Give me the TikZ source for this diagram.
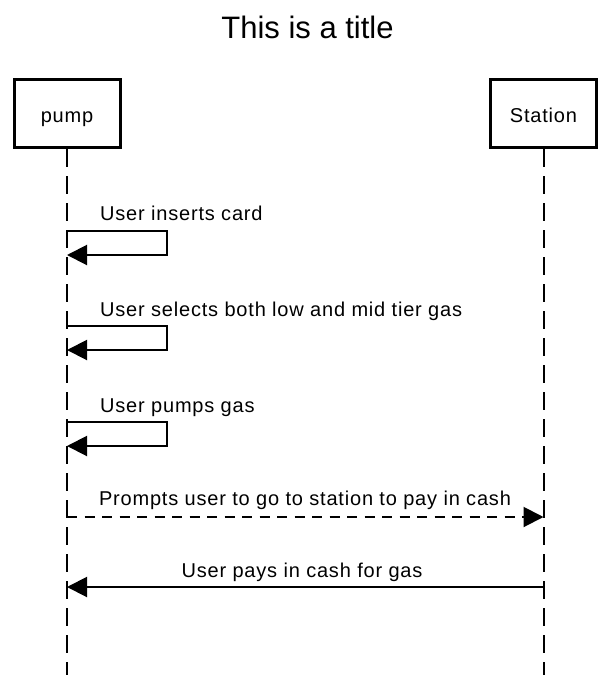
\documentclass[tikz,border=0pt]{standalone}
\usepackage{fontspec}
\setmainfont{Liberation Sans}
\newfontfamily\lblfont[LetterSpace=4]{Liberation Sans}
\usetikzlibrary{arrows.meta}
\begin{document}
\begin{tikzpicture}[x=1pt,y=-1pt,
  actor/.style={draw,line width=3pt,minimum width=106pt,minimum height=68pt,inner sep=0pt,text height=19pt,text depth=2pt,font=\lblfont\fontsize{20}{24}\selectfont},
  lifeline/.style={line width=2pt,dash pattern=on 18pt off 9pt},
  msg/.style={line width=2pt,-{Triangle[length=20pt,width=20pt]}},
  dmsg/.style={msg,dash pattern=on 10pt off 7.5pt},
  lbl/.style={inner sep=0pt,font=\lblfont\fontsize{20}{24}\selectfont},
  ttl/.style={inner sep=0pt,font=\fontsize{31}{36}\selectfont}]
\useasboundingbox (0,0) rectangle (616,675);
\node[ttl,anchor=base] (title) at (307.5,38.3) {This is a title};
\node[actor] (pump) at (67,113.5) {pump};
\node[actor] (station) at (543.5,113.5) {Station};
\coordinate (pend) at (67,675);
\coordinate (send) at (543.5,675);
\draw[lifeline] (pump.south) -- (pend);
\draw[lifeline] (station.south) -- (send);
% self messages
\coordinate (m1s) at (67,231); \coordinate (m1e) at (67,255);
\coordinate (m2s) at (67,326); \coordinate (m2e) at (67,350);
\coordinate (m3s) at (67,422); \coordinate (m3e) at (67,446);
\draw[msg] (m1s) -- ++(100,0) |- (m1e);
\draw[msg] (m2s) -- ++(100,0) |- (m2e);
\draw[msg] (m3s) -- ++(100,0) |- (m3e);
\node[lbl,anchor=base west] (l1) at (100,220) {User inserts card};
\node[lbl,anchor=base west] (l2) at (100,316) {User selects both low and mid tier gas};
\node[lbl,anchor=base west] (l3) at (100,412) {User pumps gas};
% between lifelines
\coordinate (m4s) at (67,517); \coordinate (m4e) at (543.5,517);
\coordinate (m5s) at (543.5,587); \coordinate (m5e) at (67,587);
\draw[dmsg] (m4s) -- (m4e);
\draw[msg] (m5s) -- (m5e);
\node[lbl,anchor=base] (l4) at (305,505) {Prompts user to go to station to pay in cash};
\node[lbl,anchor=base] (l5) at (302,577) {User pays in cash for gas};
\end{tikzpicture}
\end{document}
